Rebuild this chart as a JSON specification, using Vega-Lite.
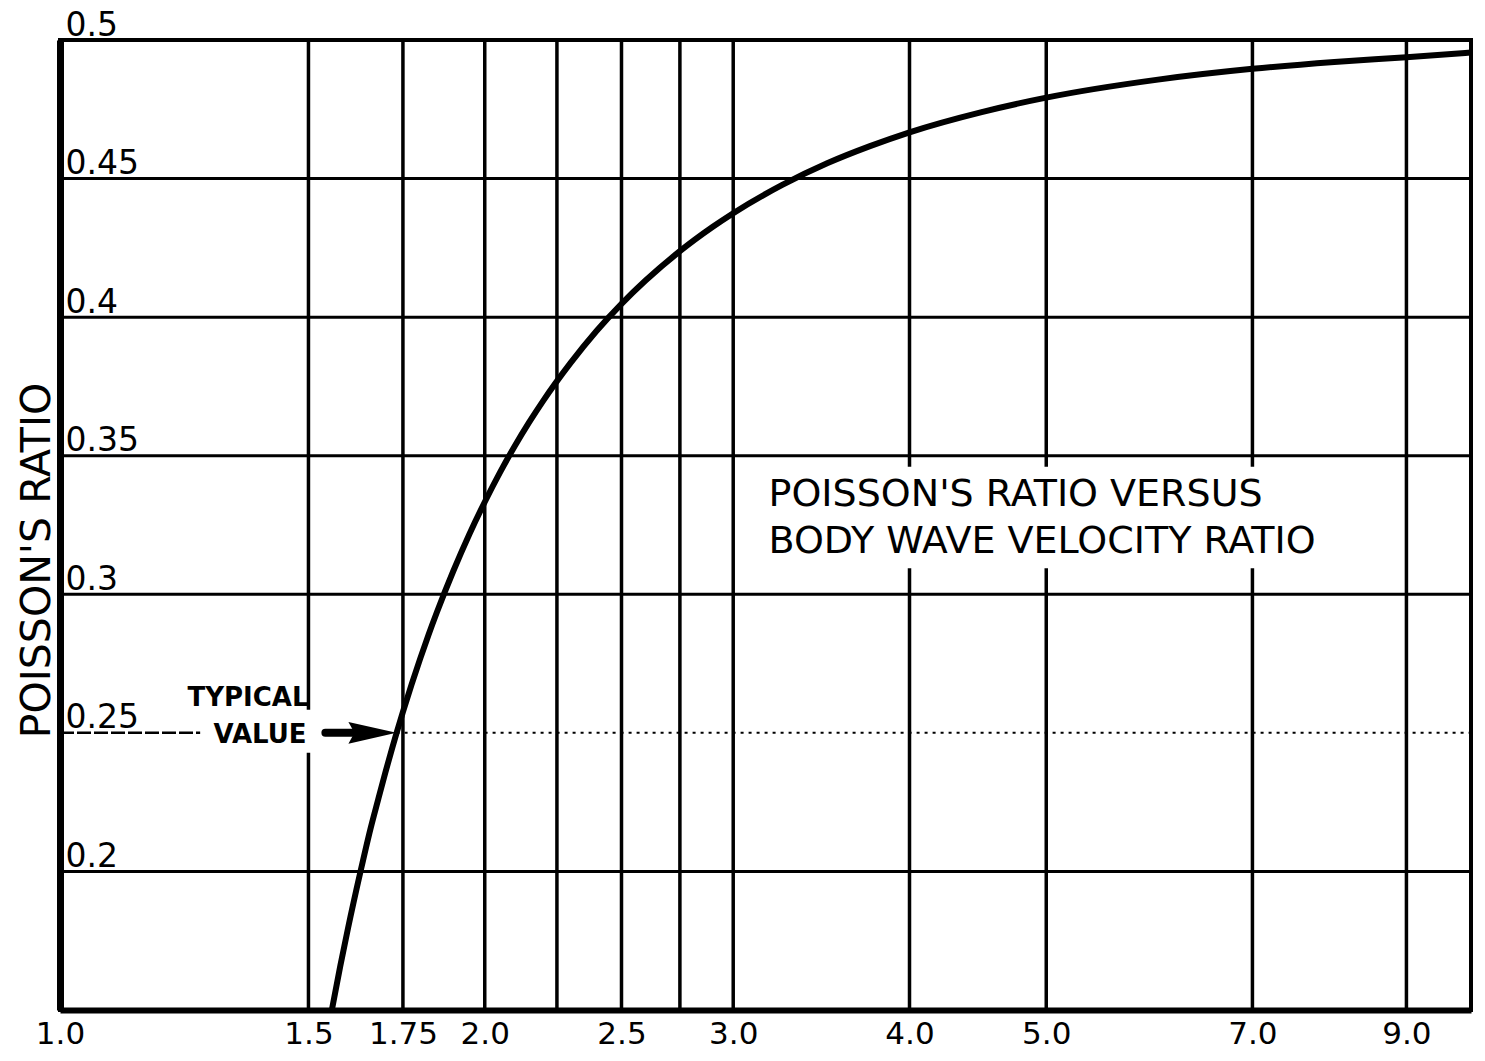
{
  "$schema": "https://vega.github.io/schema/vega-lite/v6.json",
  "width": 1411,
  "height": 970,
  "autosize": {"type": "none"},
  "padding": {"left": 60, "top": 40, "right": 14, "bottom": 51},
  "background": "#ffffff",
  "config": {
    "view": {"stroke": "#000000", "strokeWidth": 4},
    "font": "DejaVu Sans"
  },
  "datasets": {
    "curve": [
      {"r": 1.555, "sigma": 0.1475},
      {"r": 1.58, "sigma": 0.1659},
      {"r": 1.6, "sigma": 0.1795},
      {"r": 1.633, "sigma": 0.2},
      {"r": 1.66, "sigma": 0.2155},
      {"r": 1.68, "sigma": 0.2256},
      {"r": 1.7, "sigma": 0.2354},
      {"r": 1.732, "sigma": 0.25},
      {"r": 1.75, "sigma": 0.2576},
      {"r": 1.775, "sigma": 0.2675},
      {"r": 1.8, "sigma": 0.2768},
      {"r": 1.825, "sigma": 0.2855},
      {"r": 1.85, "sigma": 0.2936},
      {"r": 1.9, "sigma": 0.3084},
      {"r": 1.95, "sigma": 0.3216},
      {"r": 2.0, "sigma": 0.3333},
      {"r": 2.05, "sigma": 0.3439},
      {"r": 2.1, "sigma": 0.3534},
      {"r": 2.15, "sigma": 0.362},
      {"r": 2.2, "sigma": 0.3698},
      {"r": 2.3, "sigma": 0.3834},
      {"r": 2.4, "sigma": 0.395},
      {"r": 2.5, "sigma": 0.4048},
      {"r": 2.6, "sigma": 0.4132},
      {"r": 2.75, "sigma": 0.4238},
      {"r": 2.9, "sigma": 0.4325},
      {"r": 3.0, "sigma": 0.4375},
      {"r": 3.25, "sigma": 0.4477},
      {"r": 3.5, "sigma": 0.4556},
      {"r": 3.75, "sigma": 0.4617},
      {"r": 4.0, "sigma": 0.4667},
      {"r": 4.5, "sigma": 0.474},
      {"r": 5.0, "sigma": 0.4792},
      {"r": 6.0, "sigma": 0.4857},
      {"r": 7.0, "sigma": 0.4896},
      {"r": 8.0, "sigma": 0.4921},
      {"r": 9.0, "sigma": 0.4938},
      {"r": 10.0, "sigma": 0.4955}
    ],
    "vgrid": [
      {"r": 1.5, "sigma": 0.15, "sigma2": 0.2428},
      {"r": 1.5, "sigma": 0.2583, "sigma2": 0.5},
      {"r": 1.75, "sigma": 0.15, "sigma2": 0.5},
      {"r": 2.0, "sigma": 0.15, "sigma2": 0.5},
      {"r": 2.25, "sigma": 0.15, "sigma2": 0.5},
      {"r": 2.5, "sigma": 0.15, "sigma2": 0.5},
      {"r": 2.75, "sigma": 0.15, "sigma2": 0.5},
      {"r": 3.0, "sigma": 0.15, "sigma2": 0.5},
      {"r": 4.0, "sigma": 0.15, "sigma2": 0.3094},
      {"r": 4.0, "sigma": 0.346, "sigma2": 0.5},
      {"r": 5.0, "sigma": 0.15, "sigma2": 0.3094},
      {"r": 5.0, "sigma": 0.346, "sigma2": 0.5},
      {"r": 7.0, "sigma": 0.15, "sigma2": 0.3094},
      {"r": 7.0, "sigma": 0.346, "sigma2": 0.5},
      {"r": 9.0, "sigma": 0.15, "sigma2": 0.5}
    ],
    "hgrid": [
      {"r": 1.0, "r2": 10.0, "sigma": 0.2},
      {"r": 1.0, "r2": 10.0, "sigma": 0.3},
      {"r": 1.0, "r2": 10.0, "sigma": 0.35},
      {"r": 1.0, "r2": 10.0, "sigma": 0.4},
      {"r": 1.0, "r2": 10.0, "sigma": 0.45}
    ],
    "hdash": [
      {"r": 1.0, "r2": 1.257, "sigma": 0.25}
    ],
    "hdot": [
      {"r": 1.732, "r2": 10.0, "sigma": 0.25}
    ],
    "shaft": [
      {"r": 1.542, "r2": 1.63, "sigma": 0.25}
    ],
    "head": [
      {"r": 1.665, "sigma": 0.25}
    ],
    "note": [
      {"r": 1.359, "sigma": 0.2626, "text": "TYPICAL"},
      {"r": 1.386, "sigma": 0.2491, "text": "VALUE"}
    ],
    "caption": [
      {"r": 3.178, "sigma": 0.3357, "text": "POISSON'S RATIO VERSUS"},
      {"r": 3.178, "sigma": 0.3187, "text": "BODY WAVE VELOCITY RATIO"}
    ]
  },
  "encoding": {
    "x": {
      "field": "r",
      "type": "quantitative",
      "scale": {"type": "log", "domain": [1, 10], "nice": false, "zero": false},
      "axis": {
        "title": null,
        "values": [1, 1.5, 1.75, 2, 2.5, 3, 4, 5, 7, 9],
        "labelExpr": "datum.value == 1.75 ? '1.75' : format(datum.value, '.1f')",
        "grid": false,
        "ticks": false,
        "tickSize": 0,
        "domainColor": "#000000",
        "domainWidth": 6,
        "labelFont": "DejaVu Sans",
        "labelFontSize": 31,
        "labelColor": "#000000",
        "labelPadding": 9,
        "labelOverlap": false,
        "labelBound": false,
        "labelFlush": false
      }
    },
    "y": {
      "field": "sigma",
      "type": "quantitative",
      "scale": {"domain": [0.15, 0.5], "nice": false, "zero": false},
      "axis": {
        "title": "POISSON'S RATIO",
        "titleFont": "DejaVu Sans",
        "titleFontSize": 41,
        "titleFontWeight": "normal",
        "titleColor": "#000000",
        "titleAngle": 270,
        "titleAlign": "center",
        "titleBaseline": "alphabetic",
        "titleX": -11,
        "titleY": 520,
        "values": [0.2, 0.25, 0.3, 0.35, 0.4, 0.45, 0.5],
        "format": ".2~f",
        "grid": false,
        "ticks": false,
        "tickSize": 0,
        "domainColor": "#000000",
        "domainWidth": 7,
        "labelFont": "DejaVu Sans",
        "labelFontSize": 33,
        "labelColor": "#000000",
        "labelAlign": "left",
        "labelBaseline": "alphabetic",
        "labelPadding": -5,
        "labelOffset": -5,
        "labelOverlap": false,
        "labelBound": false,
        "labelFlush": false
      }
    }
  },
  "layer": [
    {
      "data": {"name": "vgrid"},
      "mark": {"type": "rule", "color": "#000000", "strokeWidth": 3.5},
      "encoding": {"y2": {"field": "sigma2"}}
    },
    {
      "data": {"name": "hgrid"},
      "mark": {"type": "rule", "color": "#000000", "strokeWidth": 3},
      "encoding": {"x2": {"field": "r2"}}
    },
    {
      "data": {"name": "hdash"},
      "mark": {"type": "rule", "color": "#000000", "strokeWidth": 2.5, "strokeDash": [14, 3]},
      "encoding": {"x2": {"field": "r2"}}
    },
    {
      "data": {"name": "hdot"},
      "mark": {"type": "rule", "color": "#000000", "strokeWidth": 2, "strokeDash": [3, 5]},
      "encoding": {"x2": {"field": "r2"}}
    },
    {
      "data": {"name": "curve"},
      "mark": {"type": "line", "color": "#000000", "strokeWidth": 6, "interpolate": "monotone", "strokeCap": "round", "strokeJoin": "round", "clip": true}
    },
    {
      "data": {"name": "shaft"},
      "mark": {"type": "rule", "color": "#000000", "strokeWidth": 8, "strokeCap": "round"},
      "encoding": {"x2": {"field": "r2"}}
    },
    {
      "data": {"name": "head"},
      "mark": {"type": "point", "shape": "M -1 -0.45 L 1 0 L -1 0.45 L -0.75 0 Z", "size": 2304, "filled": true, "color": "#000000", "opacity": 1}
    },
    {
      "data": {"name": "note"},
      "mark": {"type": "text", "font": "DejaVu Sans", "fontSize": 26, "fontWeight": "bold", "color": "#000000", "align": "center", "baseline": "middle"},
      "encoding": {"text": {"field": "text"}}
    },
    {
      "data": {"name": "caption"},
      "mark": {"type": "text", "font": "DejaVu Sans", "fontSize": 38, "color": "#000000", "align": "left", "baseline": "middle"},
      "encoding": {"text": {"field": "text"}}
    }
  ]
}
